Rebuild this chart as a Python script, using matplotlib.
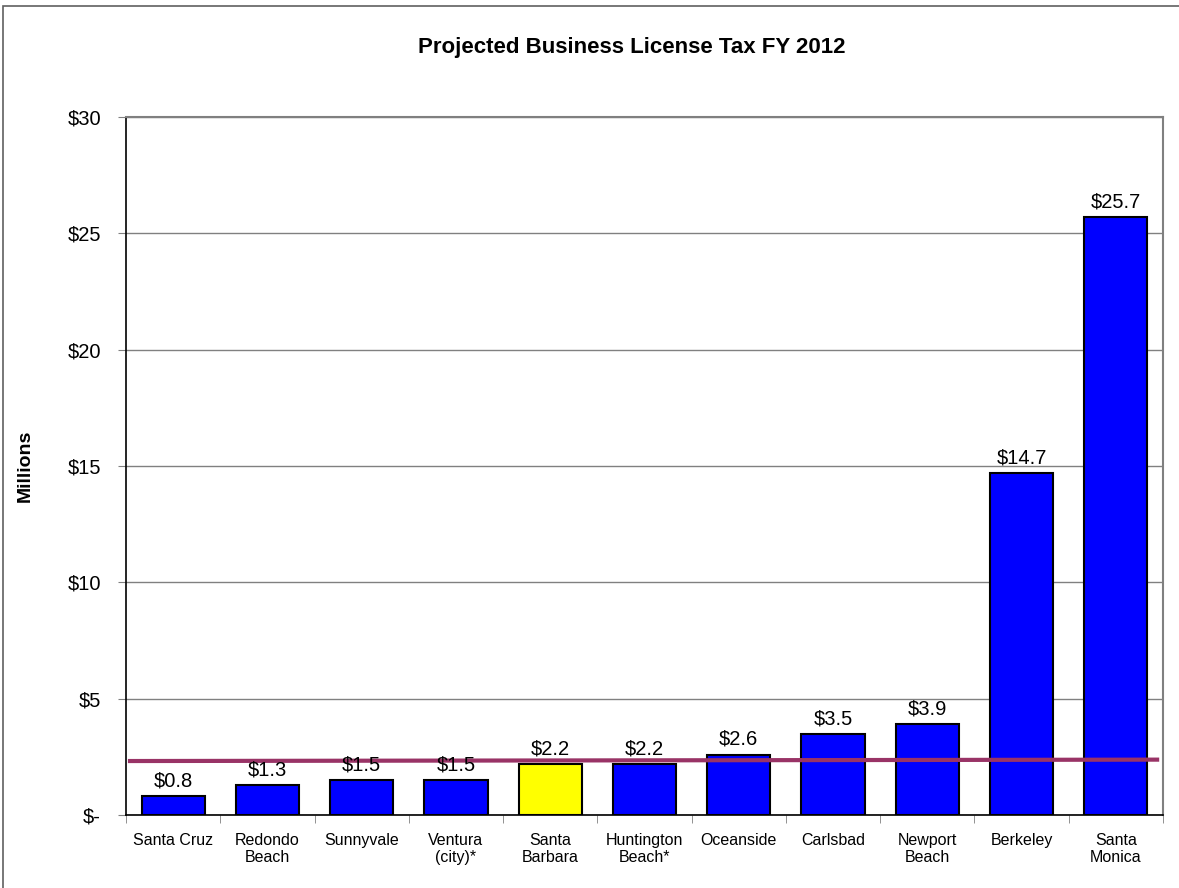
import matplotlib.pyplot as plt
from matplotlib.patches import Rectangle
from matplotlib.ticker import FuncFormatter, FixedLocator
import matplotlib as mpl

mpl.rcParams['font.family'] = ['Liberation Sans', 'DejaVu Sans']

cities = ['Santa Cruz', 'Redondo\nBeach', 'Sunnyvale', 'Ventura\n(city)*', 'Santa\nBarbara',
          'Huntington\nBeach*', 'Oceanside', 'Carlsbad', 'Newport\nBeach', 'Berkeley', 'Santa\nMonica']
tax = [0.8, 1.3, 1.5, 1.5, 2.2, 2.2, 2.6, 3.5, 3.9, 14.7, 25.7]
colors = ['#0000FF'] * 4 + ['#FFFF00'] + ['#0000FF'] * 6
avg_x = [-0.48, 10.46]
avg_y = [2.32, 2.38]

fig = plt.figure(figsize=(11.79, 8.88), dpi=100)
ax = fig.add_axes([0.1069, 0.0822, 0.8795, 0.786])

x = list(range(len(cities)))
bars = ax.bar(x, tax, width=0.67, color=colors, edgecolor='black', linewidth=1.5, zorder=3)
for xi, v in zip(x, tax):
    ax.annotate('$%.1f' % v, (xi, v), xytext=(0, 4), textcoords='offset points',
                ha='center', va='bottom', fontsize=14.5, zorder=5)

ax.plot(avg_x, avg_y, color='#993366', linewidth=3, zorder=4, solid_capstyle='butt')

ax.set_xlim(-0.5, 10.5)
ax.set_ylim(0, 30)
ax.set_yticks(range(0, 31, 5))
ax.yaxis.set_major_formatter(FuncFormatter(lambda v, p: '$-' if v == 0 else '$%d' % v))
ax.tick_params(axis='y', length=6, color='#808080', pad=12, labelsize=14.5)
ax.grid(axis='y', color='#808080', linewidth=1, zorder=0)

ax.set_xticks(x)
ax.set_xticklabels(cities, fontsize=11.5, linespacing=1.15)
ax.tick_params(axis='x', which='major', length=0, pad=13)
ax.xaxis.set_minor_locator(FixedLocator([i + 0.5 for i in range(-1, 11)]))
ax.tick_params(axis='x', which='minor', length=6, color='#808080')

for s in ['top', 'right']:
    ax.spines[s].set_color('#808080')
    ax.spines[s].set_linewidth(1.5)
for s in ['left', 'bottom']:
    ax.spines[s].set_color('black')
    ax.spines[s].set_linewidth(1.2)

ax.set_ylabel('Millions', fontsize=14, fontweight='bold')
ax.yaxis.set_label_coords(-0.089, 0.5)

fig.text(0.536, 0.946, 'Projected Business License Tax FY 2012', ha='center', va='center',
         fontsize=16, fontweight='bold')

fig.patches.append(Rectangle((3 / 1179, -0.1), 1.2, 1.1 - 6 / 888, transform=fig.transFigure,
                             fill=False, edgecolor='#606060', linewidth=1.2))

fig.savefig('out.png', dpi=100)
